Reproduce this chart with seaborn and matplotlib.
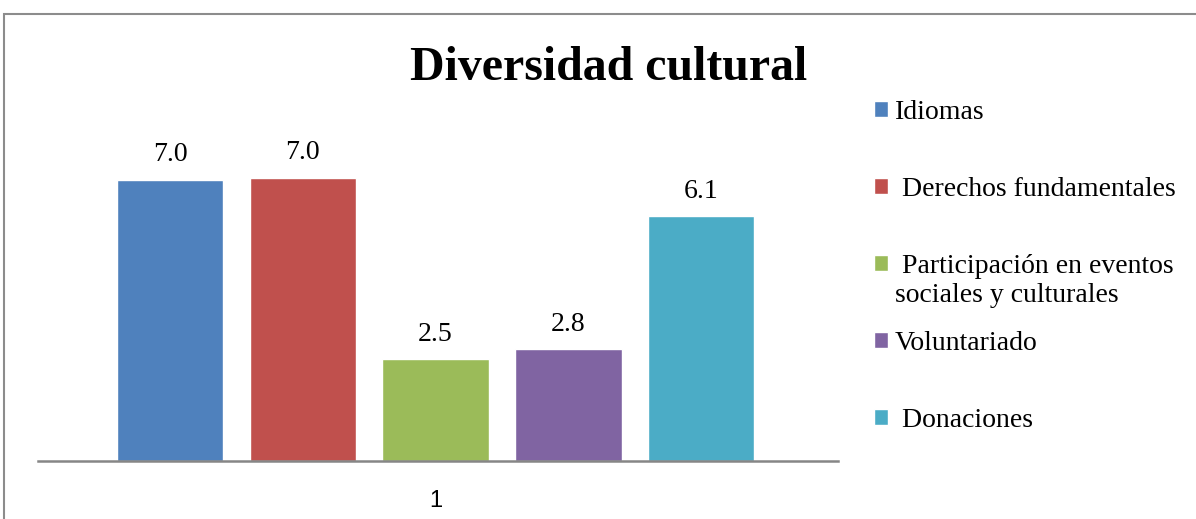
import matplotlib
import pandas as pd
import matplotlib.pyplot as plt
import seaborn as sns
from matplotlib.patches import Rectangle

matplotlib.use("Agg")

# data
series = ["Idiomas", " Derechos fundamentales",
          " Participación en eventos\nsociales y culturales",
          "Voluntariado", " Donaciones"]
values = [6.99, 7.04, 2.53, 2.78, 6.08]
groups = ["1"] * len(series)
colors = ["#4F81BD", "#C0504D", "#9BBB59", "#8064A2", "#4BACC6"]

serif = ["Liberation Serif", "DejaVu Serif"]


def plot_diversidad():
    df = pd.DataFrame({"grupo": groups, "serie": series, "valor": values})

    sns.set_style("white")
    plt.rcParams["text.color"] = "black"
    plt.rcParams["xtick.color"] = "black"
    plt.rcParams["xtick.labelcolor"] = "black"

    fig = plt.figure(figsize=(11.96, 5.19), dpi=100)
    ax = fig.add_axes([38 / 1196, 58 / 519, 800 / 1196, 322 / 519])

    sns.barplot(data=df, x="grupo", y="valor", hue="serie", palette=colors,
                gap=0.2, width=0.83, ax=ax, saturation=1)

    for cont in ax.containers:
        ax.bar_label(cont, fmt="%.1f", padding=9, fontsize=20, family=serif,
                     color="black")

    ax.set_ylim(0, 8)
    ax.set_xlim(-0.497, 0.503)
    ax.set_xlabel("")
    ax.set_ylabel("")
    ax.set_yticks([])
    for side in ["top", "right", "left"]:
        ax.spines[side].set_visible(False)
    ax.spines["bottom"].set_color("#868686")
    ax.spines["bottom"].set_linewidth(1.8)
    ax.tick_params(axis="x", length=0, pad=21, labelsize=17,
                   labelcolor="black")
    for lbl in ax.get_xticklabels():
        lbl.set_family("Liberation Sans")

    # Excel-like legend: wrapped second line hangs below its entry
    handles, labels = ax.get_legend_handles_labels()
    ax.get_legend().remove()
    first_lines = [lab.split("\n")[0] for lab in labels]
    fig.legend(handles, first_lines, loc="upper left",
               bbox_to_anchor=(874 / 1196, 1 - 100 / 519),
               frameon=False, borderpad=0, borderaxespad=0,
               handlelength=0.5, handleheight=0.5, handletextpad=0.25,
               labelspacing=1.87, labelcolor="black",
               prop={"family": serif, "size": 20})
    for lab in labels:
        if "\n" in lab:
            fig.text(895 / 1196, 1 - 302 / 519, lab.split("\n")[1],
                     ha="left", va="baseline", fontsize=20, family=serif,
                     color="black")

    fig.text(609 / 1196, 1 - 80 / 519, "Diversidad cultural", ha="center",
             va="baseline", fontsize=34.5, fontweight="bold", family=serif,
             color="black")

    fig.patches.append(Rectangle((4 / 1196, -0.1), 1.2, 1.1 - 14 / 519,
                                 transform=fig.transFigure, fill=False,
                                 edgecolor="#8c8c8c", linewidth=1.5))

    fig.savefig("out.png", dpi=100)


if __name__ == "__main__":
    plot_diversidad()
